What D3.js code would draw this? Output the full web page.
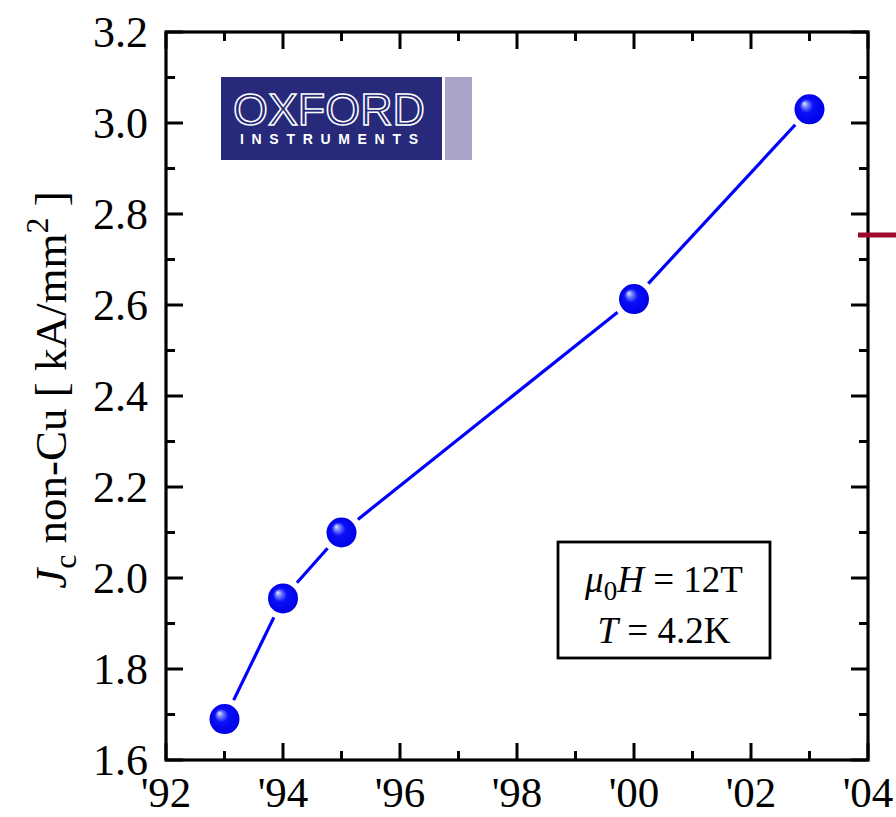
<!DOCTYPE html>
<html>
<head>
<meta charset="utf-8">
<script src="https://cdn.jsdelivr.net/npm/d3@7"></script>
<style>
  html, body { margin: 0; padding: 0; background: #fff; }
  svg { display: block; }
  text { font-family: "Liberation Serif", "Times New Roman", serif; fill: #000; }
</style>
</head>
<body>
<script>
// Critical current density of Nb3Sn wire by production year (two-digit year)
const years = [93, 94, 95, 100, 103];
const jcValues = [1.69, 1.955, 2.10, 2.613, 3.03];

const xTickValues = [92, 94, 96, 98, 100, 102, 104];
const xTickLabels = ["'92", "'94", "'96", "'98", "'00", "'02", "'04"];
const yTickValues = [1.6, 1.8, 2.0, 2.2, 2.4, 2.6, 2.8, 3.0, 3.2];

const W = 896, H = 817;
const plotL = 166, plotR = 868, plotT = 32, plotB = 760;

const svg = d3.select("body").append("svg").attr("width", W).attr("height", H);

const x = d3.scaleLinear().domain([92, 104]).range([plotL, plotR]);
const y = d3.scaleLinear().domain([1.6, 3.2]).range([plotB, plotT]);

// sphere-like marker gradient
const defs = svg.append("defs");
const grad = defs.append("radialGradient").attr("id", "ball")
  .attr("cx", "50%").attr("cy", "50%").attr("r", "50%")
  .attr("fx", "32%").attr("fy", "30%");
grad.append("stop").attr("offset", "0%").attr("stop-color", "#e8ecff");
grad.append("stop").attr("offset", "18%").attr("stop-color", "#7a86ff");
grad.append("stop").attr("offset", "45%").attr("stop-color", "#0a10f8");
grad.append("stop").attr("offset", "100%").attr("stop-color", "#0000e6");

// Axis ticks (inward, on all four sides)
const majorLen = 17, minorLen = 9;
const xMinor = d3.range(93, 104, 2);
const yMinor = d3.range(1.7, 3.15, 0.2);

const ticks = svg.append("g").attr("stroke", "#000").attr("stroke-width", 3);
xTickValues.forEach(v => {
  ticks.append("line").attr("x1", x(v)).attr("x2", x(v)).attr("y1", plotB).attr("y2", plotB - majorLen);
  ticks.append("line").attr("x1", x(v)).attr("x2", x(v)).attr("y1", plotT).attr("y2", plotT + majorLen);
});
xMinor.forEach(v => {
  ticks.append("line").attr("x1", x(v)).attr("x2", x(v)).attr("y1", plotB).attr("y2", plotB - minorLen);
  ticks.append("line").attr("x1", x(v)).attr("x2", x(v)).attr("y1", plotT).attr("y2", plotT + minorLen);
});
yTickValues.forEach(v => {
  ticks.append("line").attr("y1", y(v)).attr("y2", y(v)).attr("x1", plotL).attr("x2", plotL + majorLen);
  ticks.append("line").attr("y1", y(v)).attr("y2", y(v)).attr("x1", plotR).attr("x2", plotR - majorLen);
});
yMinor.forEach(v => {
  ticks.append("line").attr("y1", y(v)).attr("y2", y(v)).attr("x1", plotL).attr("x2", plotL + minorLen);
  ticks.append("line").attr("y1", y(v)).attr("y2", y(v)).attr("x1", plotR).attr("x2", plotR - minorLen);
});

// Frame
svg.append("rect").attr("x", plotL).attr("y", plotT)
  .attr("width", plotR - plotL).attr("height", plotB - plotT)
  .attr("fill", "none").attr("stroke", "#000").attr("stroke-width", 3.2);

// Tick labels
svg.append("g").selectAll("text").data(xTickValues).join("text")
  .attr("x", d => x(d)).attr("y", 807)
  .attr("text-anchor", "middle").attr("font-size", 43)
  .text((d, i) => xTickLabels[i]);

svg.append("g").selectAll("text").data(yTickValues).join("text")
  .attr("x", 148).attr("y", d => y(d) + 15)
  .attr("text-anchor", "end").attr("font-size", 44)
  .text(d => d.toFixed(1));

// Y axis title
const yt = svg.append("text")
  .attr("transform", `translate(66, ${(plotT + plotB) / 2 - 6}) rotate(-90)`)
  .attr("text-anchor", "middle").attr("font-size", 45);
yt.append("tspan").attr("font-style", "italic").text("J");
yt.append("tspan").attr("font-size", 32).attr("dy", 10).text("c");
yt.append("tspan").attr("dy", -10).text(" non-Cu [ kA/mm");
yt.append("tspan").attr("font-size", 32).attr("dy", -18).text("2");
yt.append("tspan").attr("dy", 18).text(" ]");

// Connecting line, broken short of each marker
const gapR = 21;
const seg = svg.append("g").attr("stroke", "#0000ff").attr("stroke-width", 3.2).attr("stroke-linecap", "butt");
for (let i = 0; i < years.length - 1; i++) {
  const x1 = x(years[i]), y1 = y(jcValues[i]);
  const x2 = x(years[i + 1]), y2 = y(jcValues[i + 1]);
  const len = Math.hypot(x2 - x1, y2 - y1);
  const ux = (x2 - x1) / len, uy = (y2 - y1) / len;
  seg.append("line")
    .attr("x1", x1 + ux * gapR).attr("y1", y1 + uy * gapR)
    .attr("x2", x2 - ux * gapR).attr("y2", y2 - uy * gapR);
}

// Markers
svg.append("g").selectAll("circle").data(years).join("circle")
  .attr("cx", d => x(d)).attr("cy", (d, i) => y(jcValues[i]))
  .attr("r", 15).attr("fill", "url(#ball)");

// Conditions box
svg.append("rect").attr("x", 558).attr("y", 542).attr("width", 212).attr("height", 116)
  .attr("fill", "#fff").attr("stroke", "#000").attr("stroke-width", 2.8);
const l1 = svg.append("text").attr("x", 664).attr("y", 592).attr("text-anchor", "middle").attr("font-size", 37);
l1.append("tspan").attr("font-style", "italic").text("μ");
l1.append("tspan").attr("font-size", 27).attr("dy", 8).text("0");
l1.append("tspan").attr("font-style", "italic").attr("dy", -8).text("H");
l1.append("tspan").text(" = 12T");
const l2 = svg.append("text").attr("x", 664).attr("y", 643).attr("text-anchor", "middle").attr("font-size", 37);
l2.append("tspan").attr("font-style", "italic").text("T");
l2.append("tspan").text(" = 4.2K");

// Logo
const logo = svg.append("g");
logo.append("rect").attr("x", 221).attr("y", 77).attr("width", 221).attr("height", 83).attr("fill", "#27297a");
logo.append("rect").attr("x", 445).attr("y", 77).attr("width", 27).attr("height", 83).attr("fill", "#a9a3c9");
logo.append("text").attr("x", 233).attr("y", 125)
  .attr("textLength", 192).attr("lengthAdjust", "spacingAndGlyphs")
  .style("font-family", "'Liberation Sans', Arial, sans-serif").attr("font-size", 44)
  .style("fill", "none").attr("stroke", "#fff").attr("stroke-width", 1.5)
  .text("OXFORD");
logo.append("text").attr("x", 240).attr("y", 144)
  .attr("textLength", 178).attr("lengthAdjust", "spacing")
  .style("font-family", "'Liberation Sans', Arial, sans-serif").attr("font-weight", "bold")
  .attr("font-size", 14).style("fill", "#fff")
  .text("INSTRUMENTS");

// Red marker stub at right edge
svg.append("line").attr("x1", 858).attr("x2", 896).attr("y1", 235).attr("y2", 235)
  .attr("stroke", "#9e0a2e").attr("stroke-width", 5);
</script>
</body>
</html>
